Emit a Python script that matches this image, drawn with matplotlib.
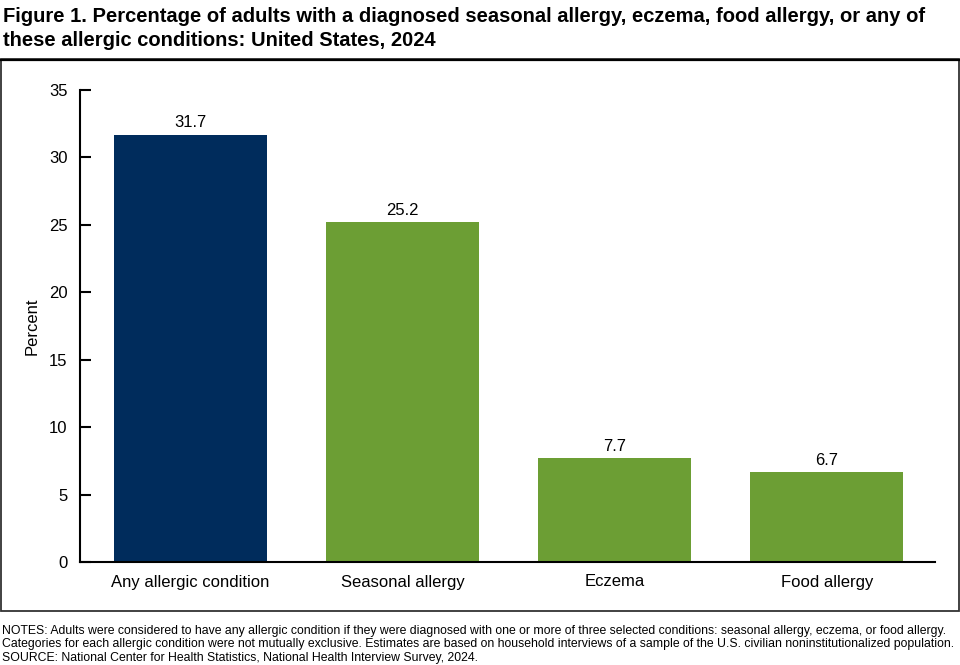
import matplotlib.pyplot as plt
from matplotlib.patches import Rectangle
import numpy as np

plt.rcParams["font.family"] = ["Liberation Sans", "DejaVu Sans"]

categories = ["Any allergic condition", "Seasonal allergy", "Eczema", "Food allergy"]
percents = [31.7, 25.2, 7.7, 6.7]
bar_colors = ["#002C5C", "#6C9E34", "#6C9E34", "#6C9E34"]
y_ticks = [0, 5, 10, 15, 20, 25, 30, 35]

title = ("Figure 1. Percentage of adults with a diagnosed seasonal allergy, eczema, food allergy, or any of\n"
         "these allergic conditions: United States, 2024")
notes = ("NOTES: Adults were considered to have any allergic condition if they were diagnosed with one or more of three selected conditions: seasonal allergy, eczema, or food allergy.\n"
         "Categories for each allergic condition were not mutually exclusive. Estimates are based on household interviews of a sample of the U.S. civilian noninstitutionalized population.\n"
         "SOURCE: National Center for Health Statistics, National Health Interview Survey, 2024.")

W, H = 960, 665
fig = plt.figure(figsize=(W / 100, H / 100), dpi=100)
ax = fig.add_axes([80 / W, 1 - 562 / H, (935 - 80) / W, (562 - 90) / H])

x = np.arange(len(categories))
ax.bar(x, percents, width=0.72, color=bar_colors)
for xi, v in zip(x, percents):
    ax.text(xi, v + 0.3, f"{v:.1f}", ha="center", va="bottom", fontsize=12)

ax.set_xlim(-0.52, 3.51)
ax.set_ylim(0, 35)
ax.set_yticks(y_ticks)
ax.set_xticks(x)
ax.set_xticklabels(categories, fontsize=12)
ax.tick_params(axis="y", direction="in", length=8, width=1.5, labelsize=12, pad=9)
ax.tick_params(axis="x", length=0, pad=9)
ax.set_ylabel("Percent", fontsize=12, labelpad=7)
for s in ["top", "right"]:
    ax.spines[s].set_visible(False)
ax.spines["left"].set_linewidth(1.5)
ax.spines["bottom"].set_linewidth(1.5)

# outer frame around the chart area
fig.patches.append(Rectangle((0.5 / W, 1 - 611 / H), 958.5 / W, (611 - 59) / H,
                             transform=fig.transFigure, fill=False,
                             edgecolor="#333333", linewidth=1.3))
fig.add_artist(plt.Line2D([0, 1], [1 - 59.5 / H] * 2, transform=fig.transFigure,
                          color="black", linewidth=1.6))

fig.text(3 / W, 1 - 7 / H, title, ha="left", va="top", fontsize=14.5,
         fontweight="bold", linespacing=1.36)
fig.text(2 / W, 1 - 625 / H, notes, ha="left", va="top", fontsize=8.85,
         linespacing=1.15)

fig.savefig("out.png", dpi=100)
